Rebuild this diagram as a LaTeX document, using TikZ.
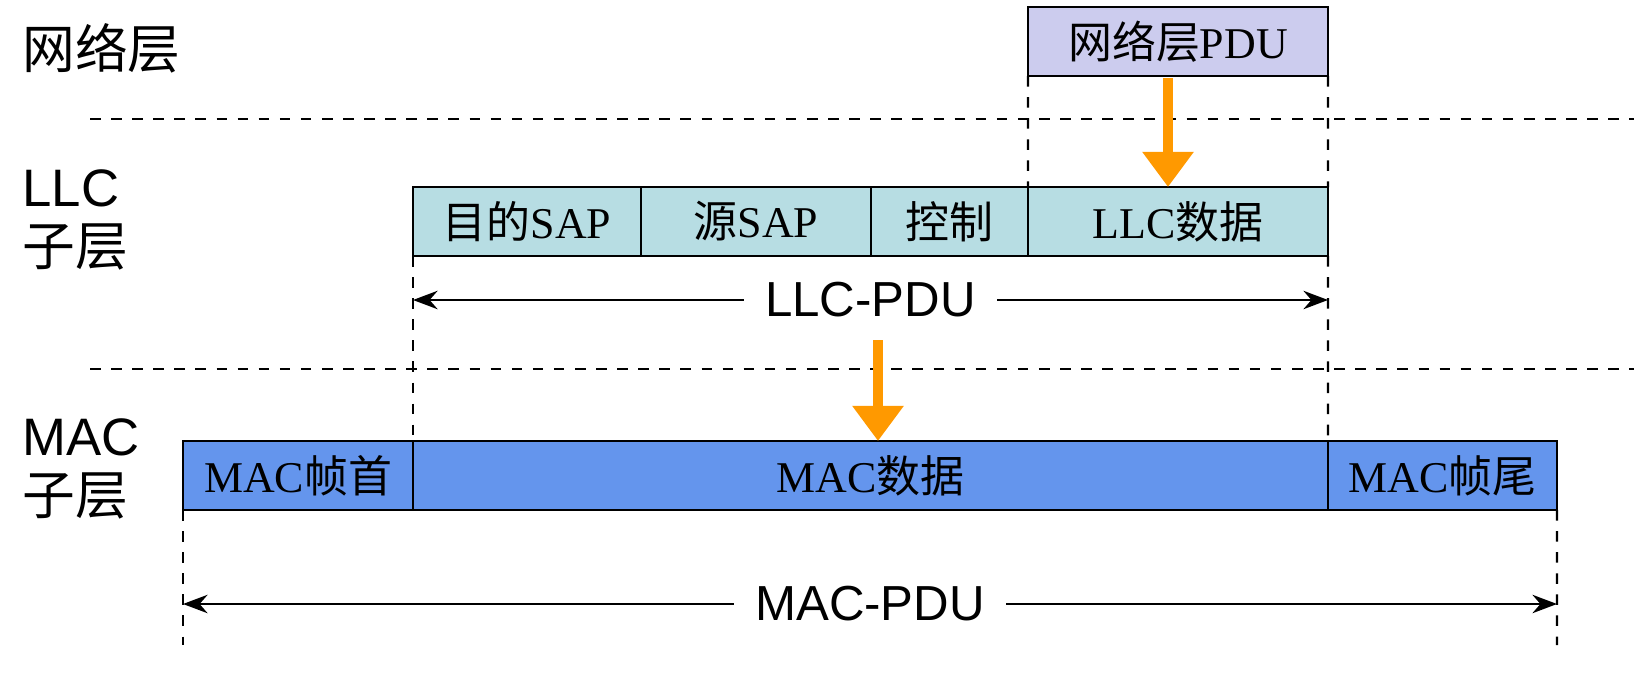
\documentclass[tikz,border=0pt]{standalone}
\usepackage{fontspec}
\setmainfont{Liberation Serif}
\setsansfont{Liberation Sans}
\newfontfamily\cjk{Noto Sans CJK SC}
\usetikzlibrary{positioning,arrows.meta}
\definecolor{netfill}{RGB}{204,204,238}
\definecolor{llcfill}{RGB}{183,221,227}
\definecolor{macfill}{RGB}{100,149,237}
\definecolor{down}{RGB}{255,153,0}
\tikzset{
  cell/.style={draw, line width=0.8pt, minimum height=0.69cm, inner sep=0pt, outer sep=0pt, font=\fontsize{12.5}{13}\selectfont},
  layer/.style={anchor=west, align=left, font=\sffamily\fontsize{15}{17}\selectfont},
  sep/.style={dashed, line width=0.6pt},
  guide/.style={dashed, line width=0.6pt},
  span/.style={{Stealth[length=7pt]}-{Stealth[length=7pt]}, line width=0.6pt},
  spanlabel/.style={fill=white, inner xsep=6pt, font=\sffamily\fontsize{14}{14}\selectfont},
  pass/.style={draw=down, line width=2.6pt, -{Triangle[length=10pt, width=14pt]}}
}
\begin{document}
\begin{tikzpicture}
\useasboundingbox (0,0) rectangle (16.34,6.92);
% layer names
\node[layer] (net) at (0.1,6.44) {\cjk 网络层};
\node[layer] (llc) at (0.1,4.72) {LLC\\{\cjk 子层}};
\node[layer] (mac) at (0.1,2.23) {MAC\\{\cjk 子层}};
% separators
\coordinate (s1l) at (0.9,5.73); \coordinate (s1r) at (16.34,5.73);
\coordinate (s2l) at (0.9,3.23); \coordinate (s2r) at (16.34,3.23);
\draw[sep] (s1l) -- (s1r);
\draw[sep] (s2l) -- (s2r);
% network layer
\node[cell, fill=netfill, minimum width=3cm, anchor=south west] (pdu) at (10.28,6.16) {{\cjk 网络层}PDU};
% LLC frame
\node[cell, fill=llcfill, minimum width=2.28cm, anchor=south west] (dsap) at (4.13,4.36) {{\cjk 目的}SAP};
\node[cell, fill=llcfill, minimum width=2.30cm, right=0pt of dsap] (ssap) {{\cjk 源}SAP};
\node[cell, fill=llcfill, minimum width=1.57cm, right=0pt of ssap] (ctrl) {\cjk 控制};
\node[cell, fill=llcfill, minimum width=3.00cm, right=0pt of ctrl] (ldata) {LLC{\cjk 数据}};
% MAC frame
\node[cell, fill=macfill, minimum width=2.30cm, anchor=south west] (mhead) at (1.83,1.82) {MAC{\cjk 帧首}};
\node[cell, fill=macfill, minimum width=9.15cm, right=0pt of mhead] (mdata) {MAC{\cjk 数据}};
\node[cell, fill=macfill, minimum width=2.29cm, right=0pt of mdata] (mtail) {MAC{\cjk 帧尾}};
% guides
\draw[guide] (pdu.south west) -- (ldata.north west);
\draw[guide] (pdu.south east) -- (ldata.north east);
\draw[guide] (dsap.south west) -- (mdata.north west);
\draw[guide] (ldata.south east) -- (mdata.north east);
\coordinate (mlb) at (1.83,0.47);
\coordinate (mrb) at (15.57,0.47);
\draw[guide] (mhead.south west) -- (mlb);
\draw[guide] (mtail.south east) -- (mrb);
% spans
\coordinate (ll) at (4.13,3.92); \coordinate (lr) at (13.28,3.92);
\draw[span] (ll) -- (lr) node[midway, spanlabel] (llcpdu) {LLC-PDU};
\coordinate (ml) at (1.83,0.88); \coordinate (mr) at (15.57,0.88);
\draw[span] (ml) -- (mr) node[midway, spanlabel] (macpdu) {MAC-PDU};
% encapsulation
\coordinate (a1) at (11.68,6.14);
\draw[pass] (a1) -- (a1 |- ldata.north);
\coordinate (a2) at (8.78,3.52);
\draw[pass] (a2) -- (a2 |- mdata.north);
\end{tikzpicture}
\end{document}
